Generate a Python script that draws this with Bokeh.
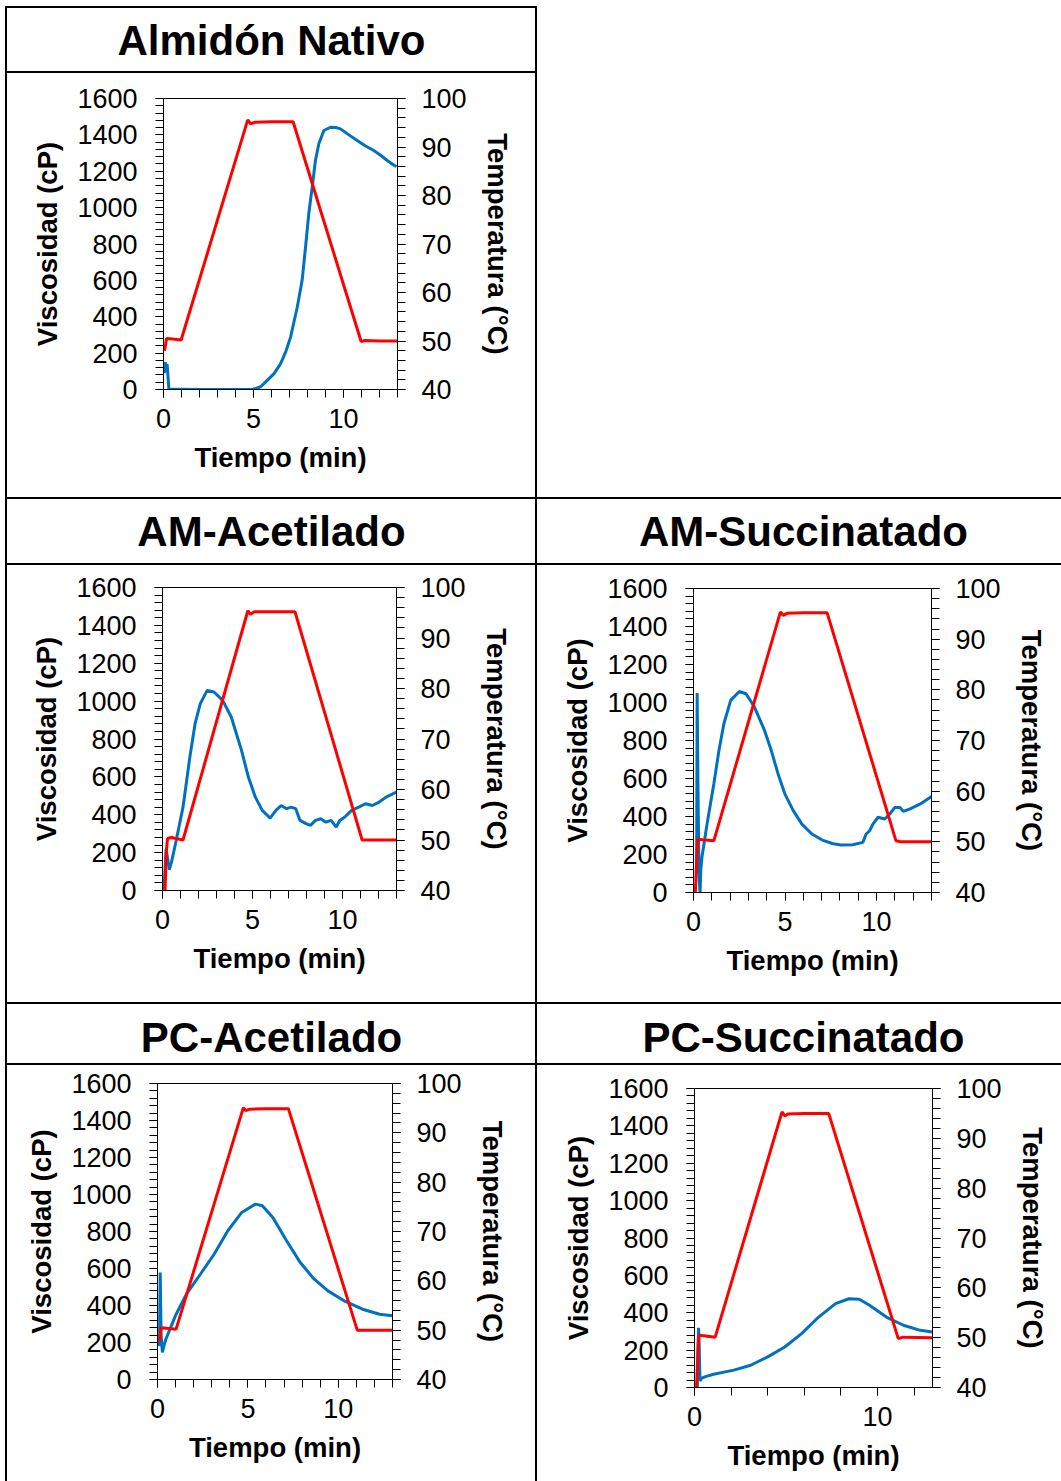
from bokeh.plotting import figure
from bokeh.models import Range1d, LinearAxis, SingleIntervalTicker, Label, Div, Spacer
from bokeh.layouts import row, column
from bokeh.embed import file_html
from bokeh.resources import INLINE

FONT = "Liberation Sans"

# ---------------- data ----------------
titles = ["Almidón Nativo", "AM-Acetilado", "AM-Succinatado", "PC-Acetilado", "PC-Succinatado"]

# Almidón Nativo
t_visc_nat = [0.05, 0.1, 0.15, 0.2, 0.3, 1.0, 2.0, 3.0, 4.0, 5.0, 5.4, 5.76, 6.13, 6.5, 6.8, 7.06, 7.43,
              7.7, 7.89, 8.07, 8.26, 8.44, 8.63, 8.91, 9.28, 9.6, 9.83, 10.3, 10.76, 11.2, 11.68, 12.1,
              12.43, 12.7, 12.94]
visc_nat = [90, 150, 100, 140, 2, 2, 0, 0, 0, 2, 15, 50, 86, 141, 210, 288, 452,
            599, 782, 966, 1112, 1259, 1351, 1424, 1442, 1440, 1433, 1400, 1369, 1340, 1314, 1285,
            1259, 1240, 1226]
t_temp_nat = [0.06, 0.17, 0.5, 0.98, 4.68, 4.83, 5.1, 6.0, 7.2, 10.98, 11.2, 12.0, 13.0]
temp_nat = [48.0, 50.5, 50.4, 50.2, 95.6, 94.8, 95.1, 95.2, 95.2, 49.9, 50.1, 50.0, 50.0]

# AM-Acetilado
t_visc_amac = [0.08, 0.2, 0.3, 0.38, 0.5, 0.76, 1.14, 1.52, 1.81, 2.1, 2.48, 2.86, 3.34, 3.82, 4.39,
               4.77, 5.16, 5.54, 5.98, 6.3, 6.59, 6.9, 7.15, 7.4, 7.64, 8.0, 8.22, 8.5, 8.79, 9.08,
               9.37, 9.65, 9.85, 10.13, 10.51, 10.9, 11.28, 11.66, 12.04, 12.42, 13.0]
visc_amac = [0, 220, 160, 110, 150, 264, 440, 705, 881, 987, 1057, 1048, 1004, 916, 740,
             599, 493, 423, 382, 423, 449, 432, 440, 432, 370, 352, 344, 370, 379, 361,
             370, 335, 370, 388, 423, 440, 458, 449, 467, 493, 520]
t_temp_amac = [0.14, 0.22, 0.28, 0.5, 1.14, 4.74, 4.88, 5.1, 6.0, 7.36, 11.09, 11.3, 13.0]
temp_amac = [40.0, 48.0, 50.3, 50.5, 50.0, 95.4, 94.7, 95.2, 95.2, 95.2, 50.0, 50.0, 50.0]

# AM-Succinatado
t_visc_amsu = [0.17, 0.2, 0.24, 0.3, 0.36, 0.4, 0.46, 0.74, 1.11, 1.39, 1.66, 2.03, 2.5, 2.87, 3.33,
               3.88, 4.25, 4.62, 4.99, 5.45, 5.92, 6.47, 7.03, 7.58, 8.04, 8.69, 9.25, 9.43, 9.62,
               9.8, 10.08, 10.45, 10.72, 11.0, 11.28, 11.46, 11.83, 12.39, 13.0]
visc_amsu = [100, 1050, 600, 80, 0, 120, 185, 360, 571, 747, 888, 1011, 1058, 1046, 976,
             853, 747, 624, 519, 431, 360, 308, 276, 258, 250, 251, 264, 308, 325,
             360, 396, 387, 413, 448, 448, 427, 440, 466, 505]
t_temp_amsu = [0.1, 0.22, 0.5, 1.11, 4.75, 4.9, 5.1, 6.0, 7.3, 11.06, 11.3, 13.0]
temp_amsu = [40.0, 50.5, 50.4, 50.2, 95.4, 94.7, 95.1, 95.2, 95.2, 50.2, 50.0, 50.0]

# PC-Acetilado
t_visc_pcac = [0.08, 0.11, 0.15, 0.2, 0.27, 0.35, 0.45, 0.65, 1.03, 1.6, 2.37, 3.13, 3.89, 4.66,
               5.42, 5.8, 6.38, 7.14, 7.9, 8.67, 9.43, 10.39, 11.34, 12.29, 13.0]
visc_pcac = [180, 209, 578, 240, 146, 180, 215, 263, 353, 461, 569, 677, 804, 903,
             948, 939, 876, 750, 632, 542, 479, 422, 380, 353, 344]
t_temp_pcac = [0.11, 0.2, 0.5, 1.03, 4.75, 4.88, 5.1, 6.0, 7.24, 11.05, 11.3, 13.0]
temp_pcac = [47.8, 50.5, 50.4, 50.2, 95.1, 94.5, 94.8, 94.9, 94.9, 50.0, 50.0, 50.0]

# PC-Succinatado
t_visc_pcsu = [0.15, 0.22, 0.25, 0.3, 0.4, 0.6, 1.04, 2.15, 3.07, 4.0, 4.93, 5.85, 6.78, 7.7, 8.44,
               9.0, 9.56, 10.48, 11.41, 12.33, 13.0]
visc_pcsu = [0, 320, 250, 35, 50, 58, 71, 93, 119, 164, 217, 288, 377, 449, 475,
             472, 440, 377, 333, 306, 297]
t_temp_pcsu = [0.11, 0.22, 0.3, 1.13, 4.78, 4.93, 5.1, 6.0, 7.33, 11.13, 11.4, 13.0]
temp_pcsu = [40.0, 50.1, 50.5, 50.1, 95.3, 94.5, 94.9, 95.0, 95.0, 49.8, 50.1, 50.0]

x_label = "Tiempo (min)"
y_label = "Viscosidad (cP)"
y2_label = "Temperatura (°C)"

BLUE = "#0070C0"
RED = "#FF0000"
W = 1061


def style_axis(ax, standoff, label_standoff):
    ax.major_tick_out = 8
    ax.major_tick_in = 0
    ax.minor_tick_out = 8
    ax.minor_tick_in = 0
    ax.axis_line_color = "black"
    ax.major_tick_line_color = "black"
    ax.minor_tick_line_color = "black"
    ax.major_label_text_font = FONT
    ax.major_label_text_font_size = "27px"
    ax.major_label_text_color = "black"
    ax.major_label_standoff = standoff
    ax.axis_label_text_font = FONT
    ax.axis_label_text_font_size = "27.5px"
    ax.axis_label_text_font_style = "bold"
    ax.axis_label_text_color = "black"
    ax.axis_label_standoff = label_standoff


def chart(w, h, lb, rb, tb, bb, tv, v, tt, temp, x_interval, x_title_standoff=11):
    p = figure(width=w, height=h, x_range=Range1d(0, 13), y_range=Range1d(0, 1600),
               min_border_left=lb, min_border_right=rb, min_border_top=tb, min_border_bottom=bb,
               toolbar_location=None, output_backend="svg", x_axis_type=None, y_axis_type=None,
               frame_align=False)
    p.extra_y_ranges = {"temp": Range1d(40, 100)}
    p.outline_line_color = "black"
    p.background_fill_color = "white"
    p.border_fill_color = "white"

    xa = LinearAxis(ticker=SingleIntervalTicker(interval=x_interval, num_minor_ticks=5),
                    axis_label=x_label)
    style_axis(xa, 11, x_title_standoff)
    p.add_layout(xa, "below")

    ya = LinearAxis(ticker=SingleIntervalTicker(interval=200, num_minor_ticks=5), axis_label=y_label)
    style_axis(ya, 18, 11)
    p.add_layout(ya, "left")

    y2 = LinearAxis(y_range_name="temp", ticker=SingleIntervalTicker(interval=10, num_minor_ticks=5),
                    axis_label=y2_label)
    style_axis(y2, 16, 12)
    p.add_layout(y2, "right")

    p.line(tv, v, line_color=BLUE, line_width=3)
    p.line(tt, temp, line_color=RED, line_width=3, y_range_name="temp")
    return p


def header(text, w, h, cx, cy):
    p = figure(width=w, height=h, x_range=Range1d(0, w), y_range=Range1d(0, h), min_border=0,
               toolbar_location=None, output_backend="svg", x_axis_type=None, y_axis_type=None,
               outline_line_color=None, frame_align=False)
    p.add_layout(Label(x=cx, y=cy, text=text, text_align="center", text_baseline="middle",
                       text_font=FONT, text_font_size="42px", text_font_style="bold",
                       text_color="black"))
    return p


def blk(w, h):
    return Div(text="", width=w, height=h, margin=0, styles={"background-color": "black"})


def sp(w, h):
    return Spacer(width=w, height=h, margin=0)


def band(children, h):
    used = sum(c.width for c in children)
    if used < W:
        children = children + [sp(W - used, h)]
    return row(children, spacing=0)


hdr1 = header(titles[0], 528, 63, 264, 31)
hdr2 = header(titles[1], 528, 64, 264, 32)
hdr3 = header(titles[2], 524, 64, 266, 32)
hdr4 = header(titles[3], 528, 59, 264, 26.5)
hdr5 = header(titles[4], 524, 59, 266, 26.5)

fig1 = chart(528, 424, 156, 138, 25, 108, t_visc_nat, visc_nat, t_temp_nat, temp_nat, 5)
fig2 = chart(528, 437, 155, 139, 22, 112, t_visc_amac, visc_amac, t_temp_amac, temp_amac, 5)
fig3 = chart(524, 437, 156, 130, 23, 110, t_visc_amsu, visc_amsu, t_temp_amsu, temp_amsu, 5)
fig4 = chart(528, 416, 150, 143, 18, 102, t_visc_pcac, visc_pcac, t_temp_pcac, temp_pcac, 5)
fig5 = chart(524, 416, 157, 129, 23, 94, t_visc_pcsu, visc_pcsu, t_temp_pcsu, temp_pcsu, 10, 11)

layout = column([
    sp(W, 6),
    band([sp(5, 2), blk(532, 2)], 2),
    band([sp(5, 63), blk(2, 63), hdr1, blk(2, 63)], 63),
    band([sp(5, 2), blk(532, 2)], 2),
    band([sp(5, 424), blk(2, 424), fig1, blk(2, 424)], 424),
    band([sp(5, 2), blk(1056, 2)], 2),
    band([sp(5, 64), blk(2, 64), hdr2, blk(2, 64), hdr3], 64),
    band([sp(5, 2), blk(1056, 2)], 2),
    band([sp(5, 437), blk(2, 437), fig2, blk(2, 437), fig3], 437),
    band([sp(5, 2), blk(1056, 2)], 2),
    band([sp(5, 59), blk(2, 59), hdr4, blk(2, 59), hdr5], 59),
    band([sp(5, 2), blk(1056, 2)], 2),
    band([sp(5, 416), blk(2, 416), fig4, blk(2, 416), fig5], 416),
], spacing=0)

open("out.html", "w").write(file_html(layout, INLINE))
